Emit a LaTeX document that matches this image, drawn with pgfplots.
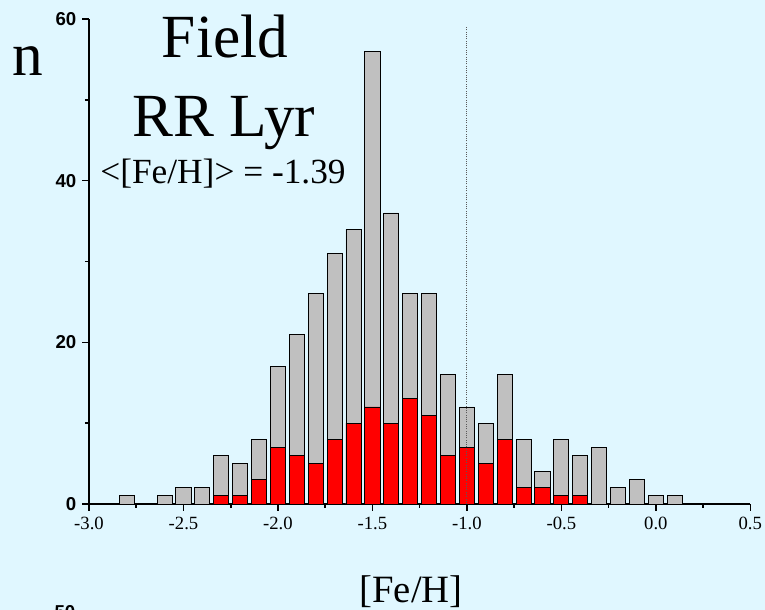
\documentclass[border=0pt]{standalone}
\usepackage{pgfplots}
\pgfplotsset{compat=1.18}
\usepackage{fontspec}
\setmainfont{Liberation Serif}
\newfontfamily\lsans{Liberation Sans}
\definecolor{bgcyan}{HTML}{E0F7FF}
\definecolor{bargray}{HTML}{C0C0C0}
\definecolor{barred}{HTML}{FF0000}
\begin{document}
\begin{tikzpicture}
\fill[bgcyan] (0pt,0pt) rectangle (573.75pt,457.5pt);
\useasboundingbox (0pt,0pt) rectangle (573.75pt,457.5pt);
\begin{axis}[
  at={(66.75pt,79.5pt)}, anchor=south west,
  scale only axis, width=496pt, height=363.75pt,
  xmin=-3, xmax=0.5, ymin=0, ymax=60,
  axis x line=bottom, axis y line=left,
  axis line style={-, line width=1.5pt, black},
  tick align=outside,
  major tick length=5pt, minor tick length=3pt,
  every tick/.style={black, line width=1.2pt},
  xtick={-3,-2.5,-2,-1.5,-1,-0.5,0,0.5},
  xticklabels={-3.0,-2.5,-2.0,-1.5,-1.0,-0.5,0.0,0.5},
  minor xtick={-2.75,-2.25,-1.75,-1.25,-0.75,-0.25,0.25},
  ytick={0,20,40,60},
  yticklabels={0,20,40,60},
  minor ytick={10,30,50},
  xticklabel style={font=\fontsize{14}{14}\selectfont, yshift=-1pt},
  yticklabel style={font=\lsans\bfseries\fontsize{14}{14}\selectfont, xshift=-1pt},
  clip=false,
]
\addplot[ybar, bar width=0.08, bar shift=0pt, fill=bargray, draw=black, line width=0.7pt] coordinates {
(-2.8,1) (-2.6,1) (-2.5,2) (-2.4,2) (-2.3,6) (-2.2,5) (-2.1,8) (-2.0,17)
(-1.9,21) (-1.8,26) (-1.7,31) (-1.6,34) (-1.5,56) (-1.4,36) (-1.3,26) (-1.2,26)
(-1.1,16) (-1.0,12) (-0.9,10) (-0.8,16) (-0.7,8) (-0.6,4) (-0.5,8) (-0.4,6)
(-0.3,7) (-0.2,2) (-0.1,3) (0.0,1) (0.1,1)
};
\addplot[ybar, bar width=0.08, bar shift=0pt, fill=barred, draw=black, line width=0.7pt] coordinates {
(-2.3,1) (-2.2,1) (-2.1,3) (-2.0,7) (-1.9,6) (-1.8,5) (-1.7,8) (-1.6,10)
(-1.5,12) (-1.4,10) (-1.3,13) (-1.2,11) (-1.1,6) (-1.0,7) (-0.9,5) (-0.8,8)
(-0.7,2) (-0.6,2) (-0.5,1) (-0.4,1)
};
\addplot[gray!70!black, densely dotted, line width=0.7pt] coordinates {(-1,0) (-1,59)};
\end{axis}
\node[anchor=base, font=\fontsize{46}{46}\selectfont] at (21pt,400.5pt) {n};
\node[anchor=base, font=\fontsize{46}{46}\selectfont] at (168.75pt,414pt) {Field};
\node[anchor=base, font=\fontsize{46}{46}\selectfont] at (168pt,354.75pt) {RR Lyr};
\node[anchor=base, font=\fontsize{26.5}{27}\selectfont] at (167.25pt,319.5pt) {<[Fe/H]> = -1.39};
\node[anchor=base, font=\fontsize{29}{29}\selectfont] at (308.25pt,5.25pt) {[Fe/H]};
\node[anchor=base, font=\lsans\bfseries\fontsize{14}{14}\selectfont] at (48.75pt,-6.75pt) {50};
\end{tikzpicture}
\end{document}
